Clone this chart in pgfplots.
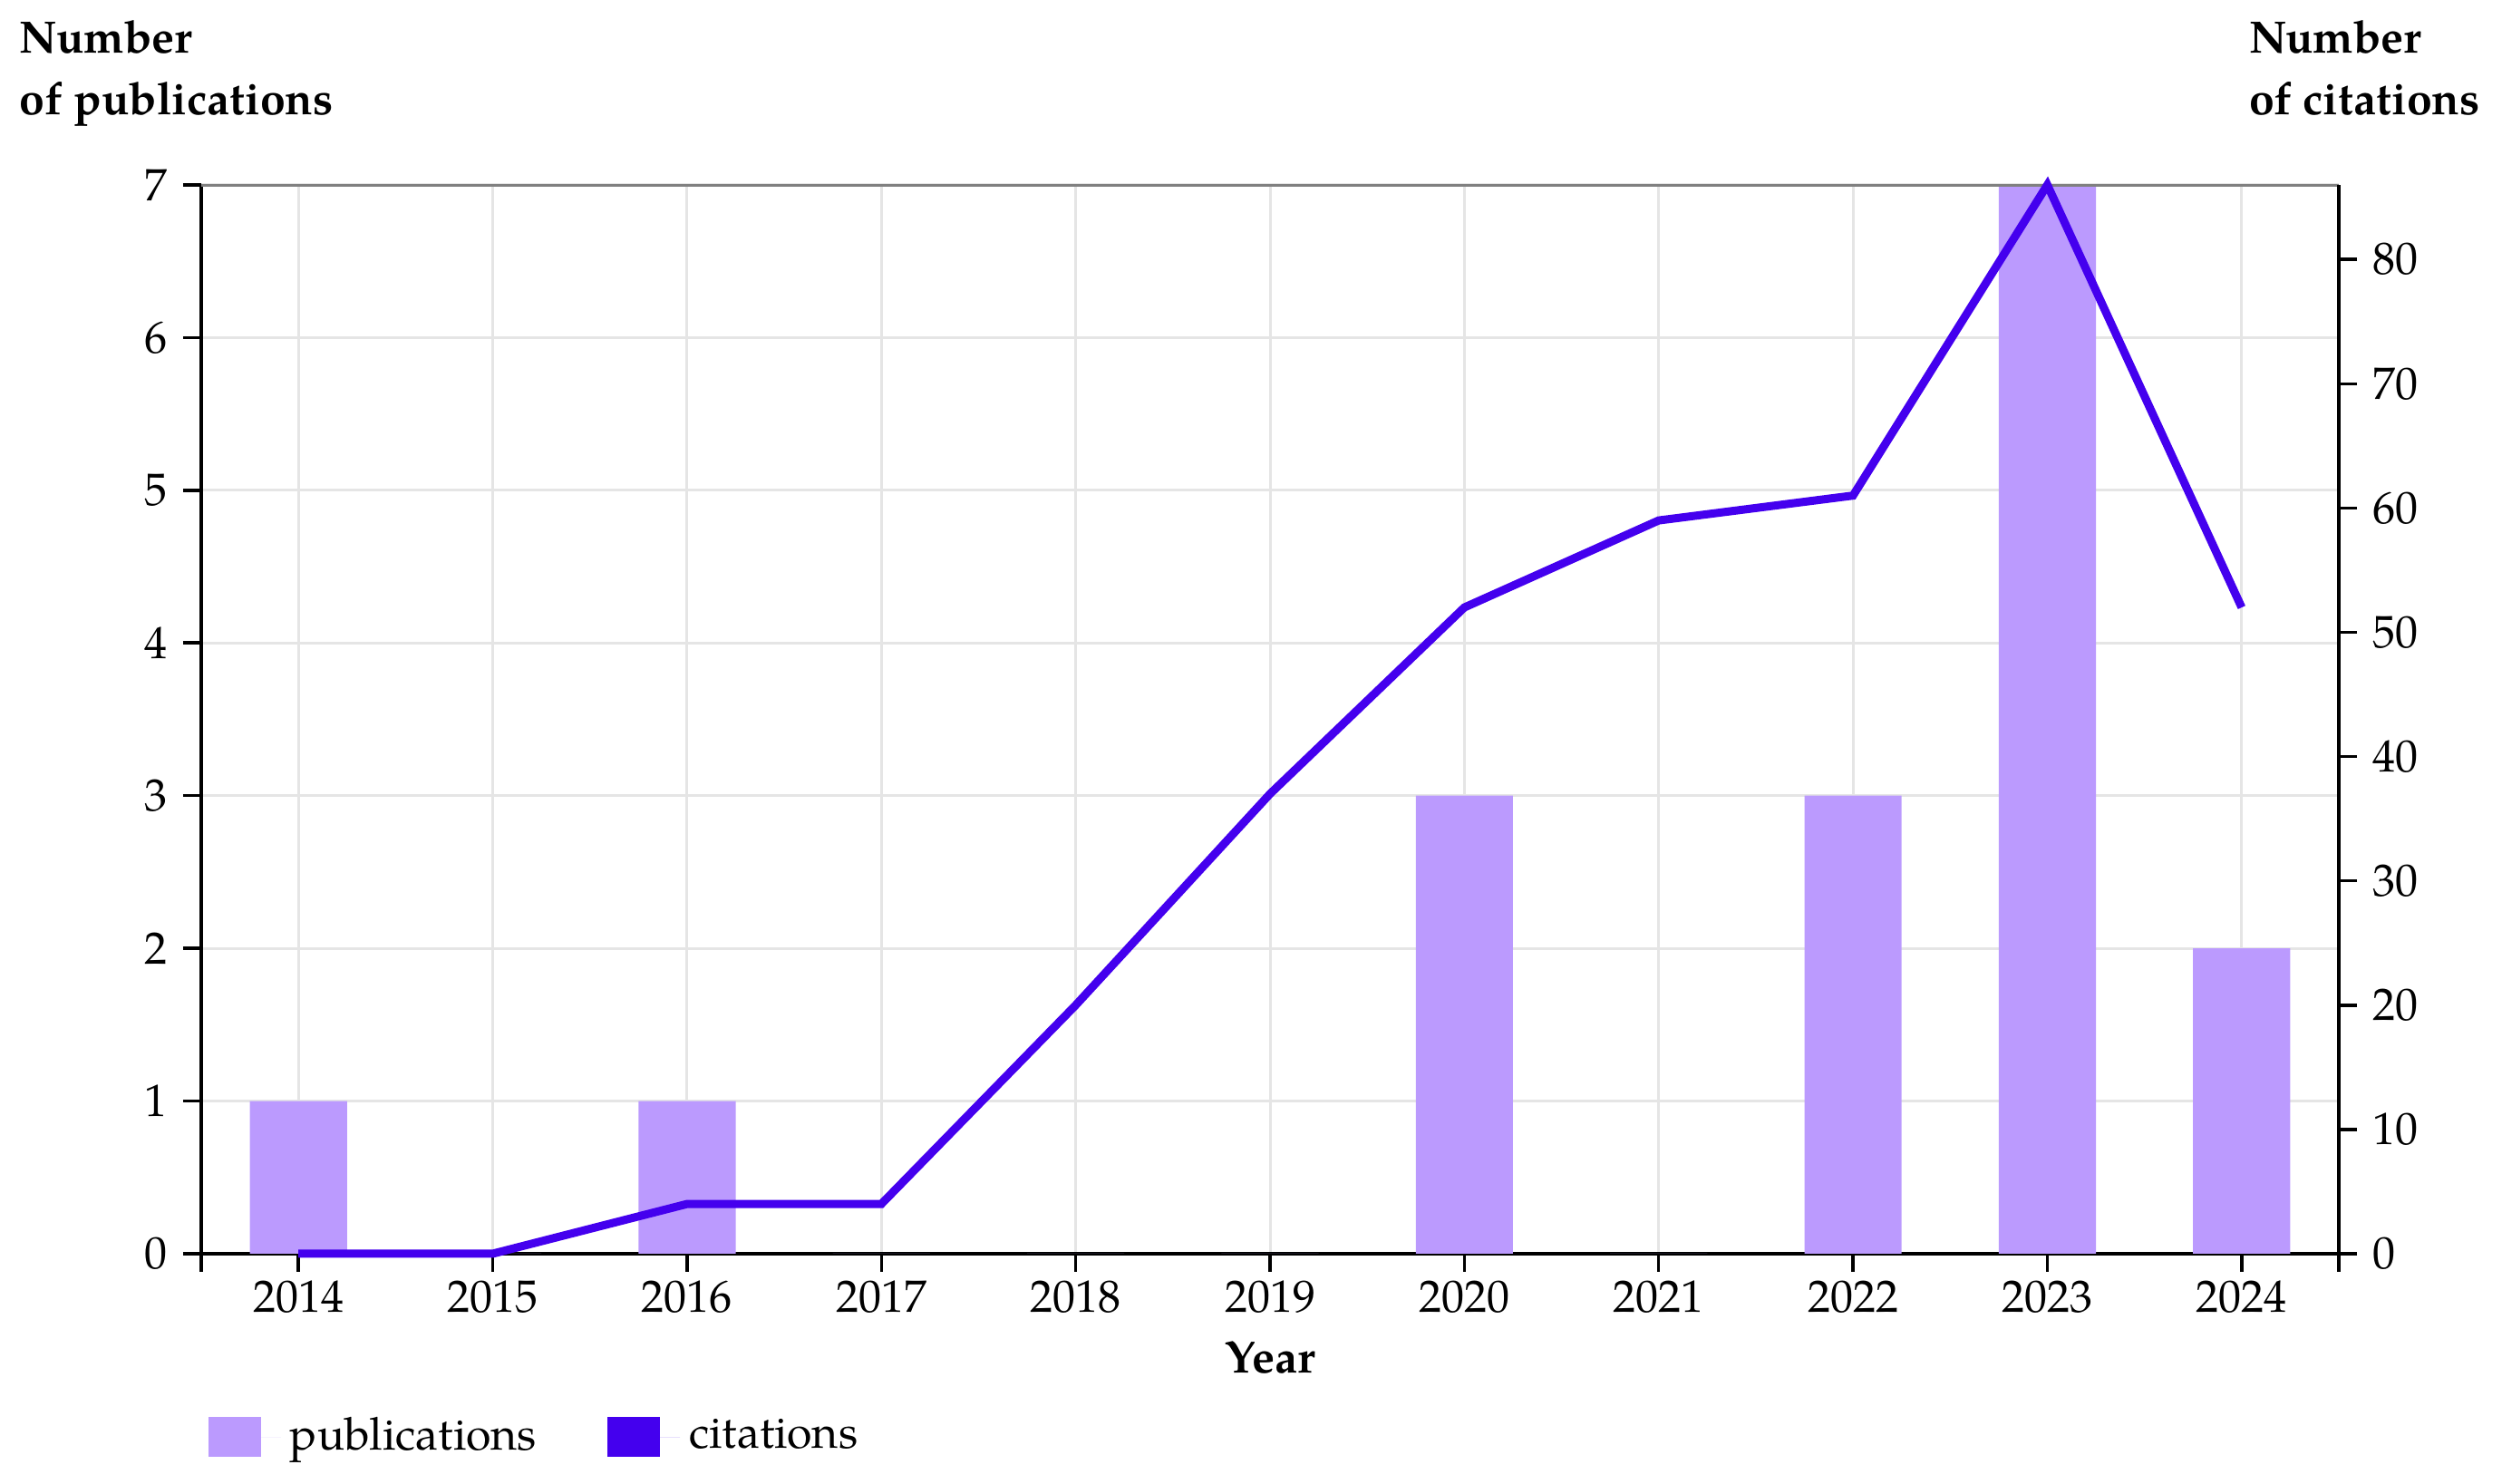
\documentclass[border=0pt]{standalone}
\usepackage{fontspec}
\setmainfont{TeX Gyre Pagella}
\usepackage{pgfplots}
\pgfplotsset{compat=1.18}
\definecolor{barcol}{RGB}{187,154,254}
\definecolor{linecol}{RGB}{68,0,238}
\definecolor{gridcol}{RGB}{229,229,229}
\begin{document}
\begin{tikzpicture}
\pgfplotsset{
  common/.style={
    scale only axis, width=471.6pt, height=235.8pt,
    xmin=-0.5, xmax=10.5, ymin=0,
    /pgf/number format/assume math mode=true,
    tick align=outside, major tick length=4pt,
    tick style={black, line width=0.7pt},
    axis line style={black, line width=0.7pt, -},
    every axis y label/.style={anchor=south west, align=left, inner sep=0pt, font=\bfseries},
  }
}
\begin{axis}[common, name=main,
  ymax=7, ybar, bar width=0.5,
  axis x line*=bottom, axis y line*=left,
  xtick={0,1,2,3,4,5,6,7,8,9,10},
  xticklabels={2014,2015,2016,2017,2018,2019,2020,2021,2022,2023,2024},
  x tick label style={yshift=1.5pt},
  ytick={0,1,2,3,4,5,6,7},
  grid=major, major grid style={gridcol, line width=0.6pt},
  extra x ticks={-0.5,10.5}, extra x tick labels={}, extra x tick style={grid=none},
  xlabel={\bfseries Year},
  every axis x label/.style={at={(rel axis cs:0.5,0)}, anchor=base, yshift=-26.4pt},
  ylabel={Number\\[1.7pt]of publications},
  y label style={at={(rel axis cs:0,1)}, xshift=-40.2pt, yshift=12.7pt},
  legend style={at={(rel axis cs:0,0)}, anchor=west, xshift=1.4pt, yshift=-40.5pt,
    draw=none, inner sep=0pt, legend columns=2, font=\normalsize,
    /tikz/every even column/.append style={column sep=13.6pt}},
  legend image code/.code={\fill[#1] (0pt,-4.4pt) rectangle (11.6pt,4.4pt); \path (0pt,0pt) -- (16pt,0pt);},
]
\addplot[fill=barcol, draw=none] coordinates {
  (0,1) (1,0) (2,1) (3,0) (4,0) (5,0) (6,3) (7,0) (8,3) (9,7) (10,2)};
\addlegendentry{publications}
\addlegendimage{fill=linecol, draw=none}
\addlegendentry{citations}
\draw[gray, line width=0.7pt] (rel axis cs:0,1) -- (rel axis cs:1,1);
\end{axis}
\begin{axis}[common,
  ymax=86, clip=false,
  axis x line=none, axis y line*=right,
  ytick={0,10,20,30,40,50,60,70,80},
  ylabel={Number\\[1.7pt]of citations\vphantom{p}},
  y label style={at={(rel axis cs:1,1)}, xshift=-20pt, yshift=12.7pt},
]
\addplot[linecol, line width=1.8pt, mark=none] coordinates {
  (0,0) (1,0) (2,4) (3,4) (4,20) (5,37) (6,52) (7,59) (8,61) (9,86) (10,52)};
\end{axis}
\pgfresetboundingbox
\path[use as bounding box] ([shift={(-44.4pt,-50.8pt)}]main.south west) rectangle ([shift={(36pt,40.8pt)}]main.north east);
\end{tikzpicture}
\end{document}
